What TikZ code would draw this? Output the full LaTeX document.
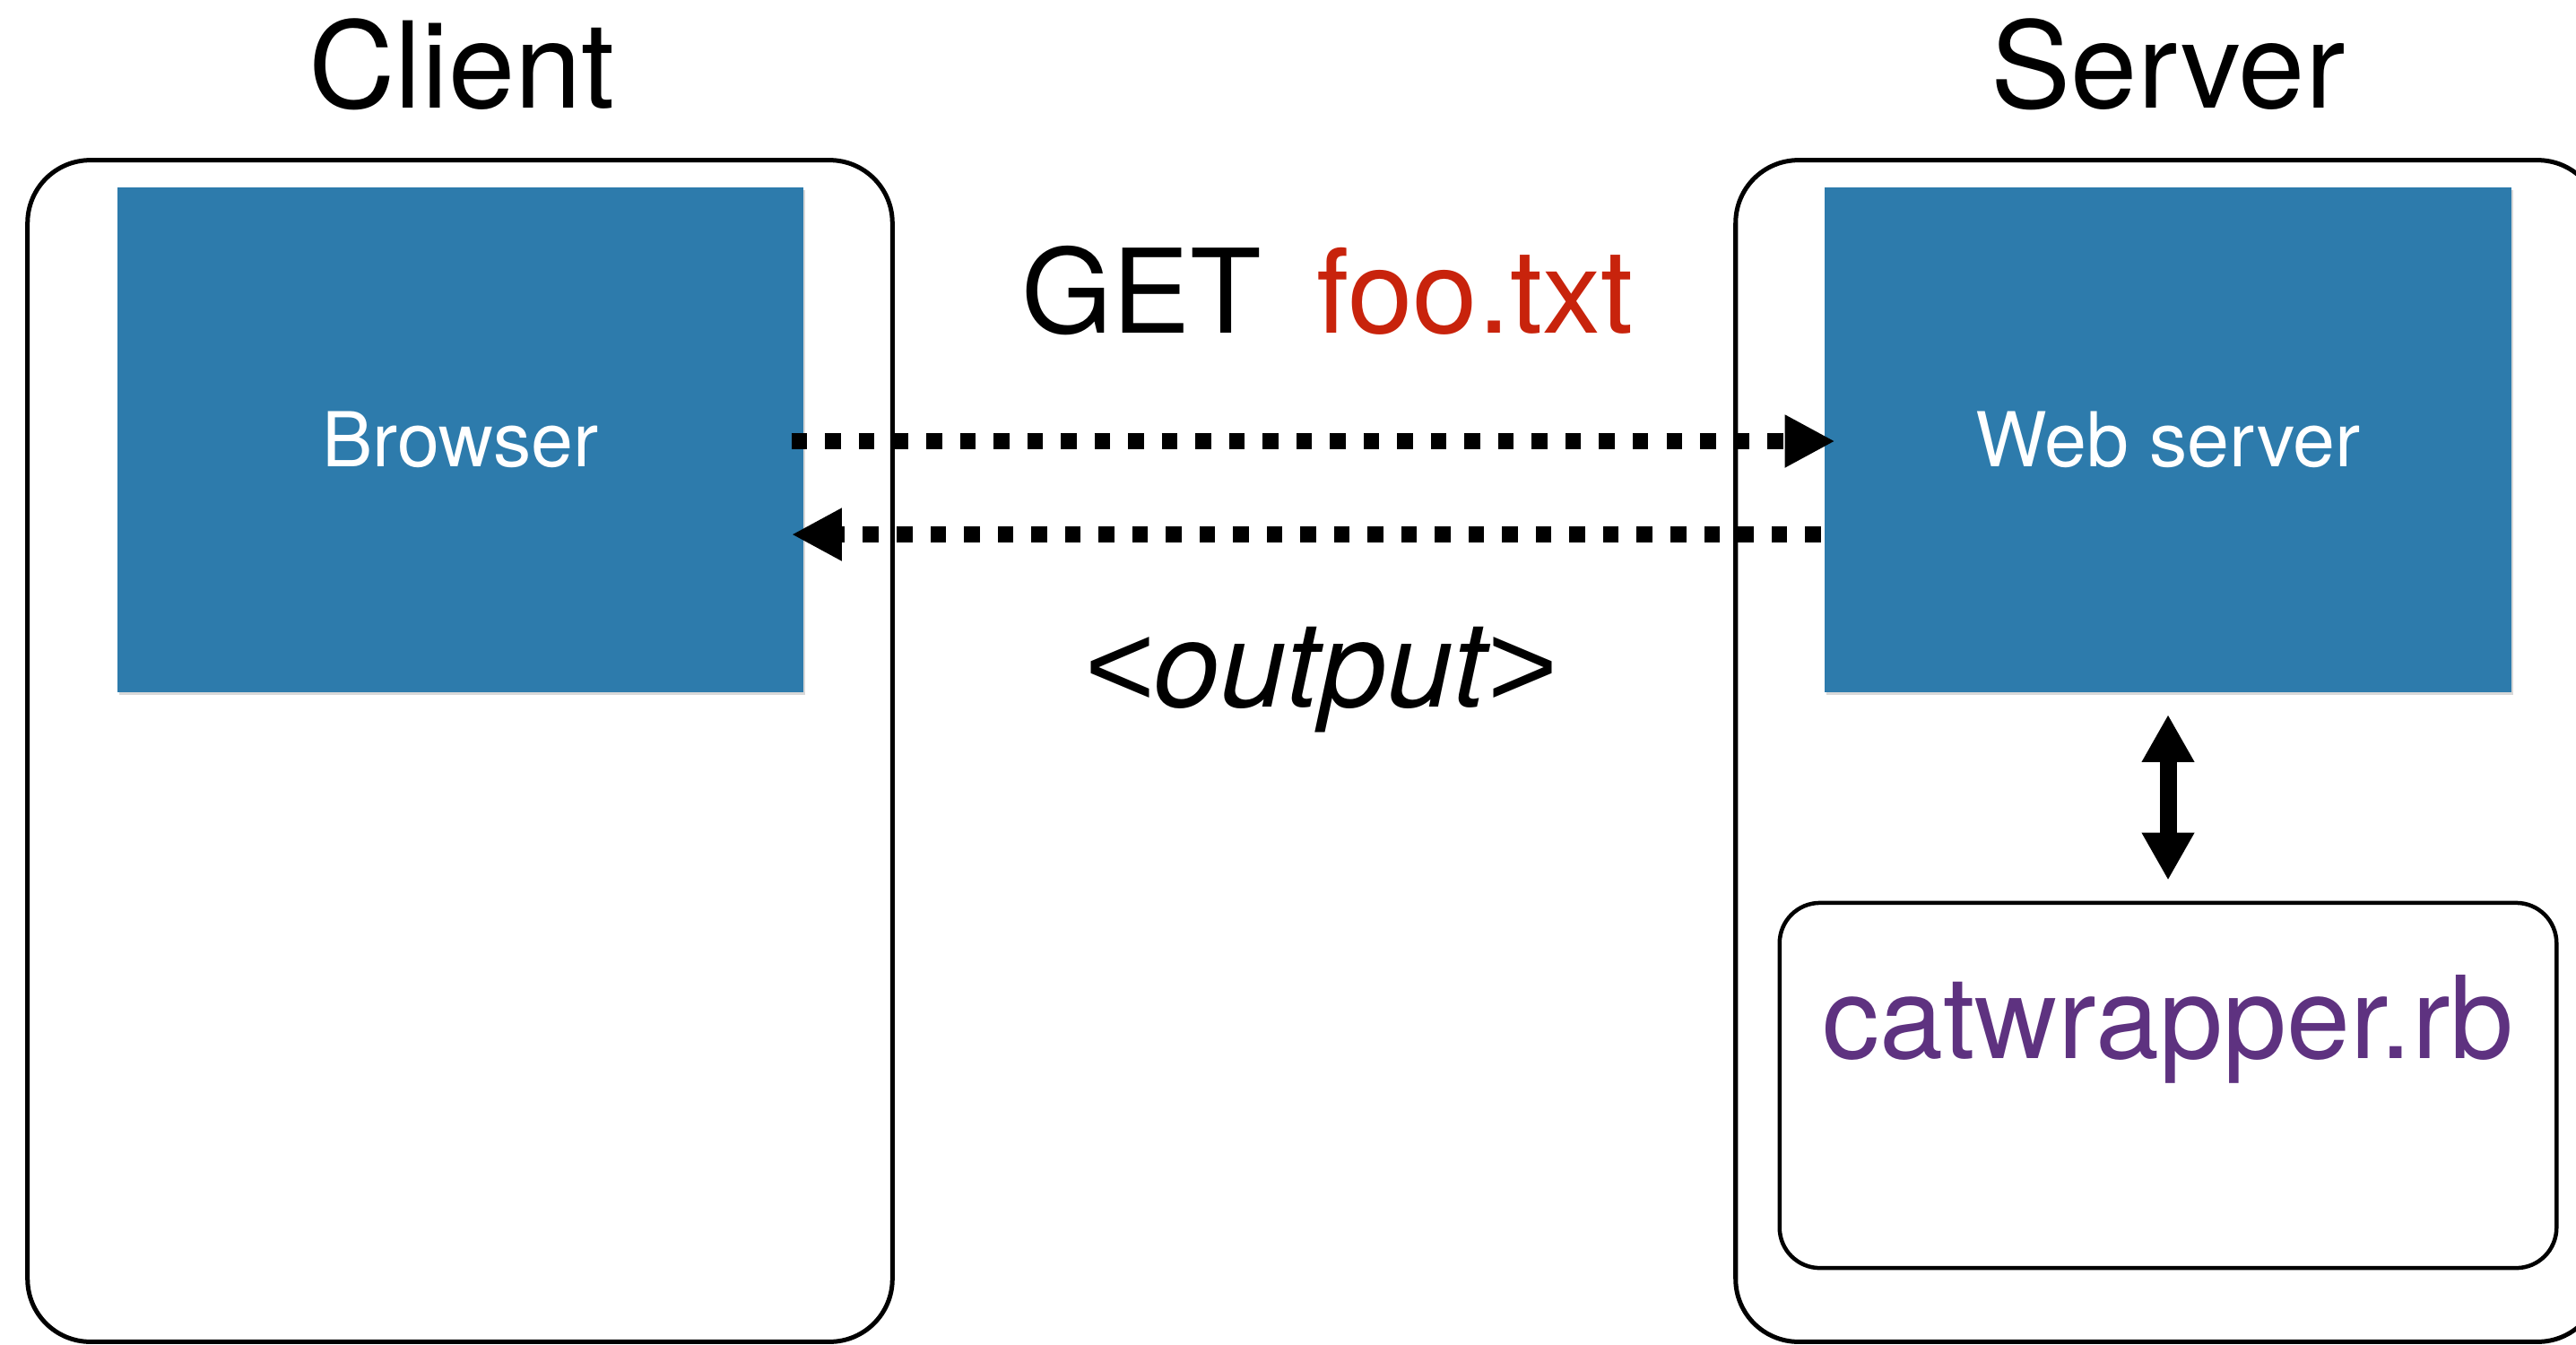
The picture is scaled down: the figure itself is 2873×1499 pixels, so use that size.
\documentclass[tikz,border=0pt]{standalone}
\usepackage{fontspec}
\setmainfont{TeX Gyre Heros}
\newfontfamily\bracketfont{Liberation Sans}
\usetikzlibrary{arrows.meta,shadows}
\definecolor{paperblue}{RGB}{45,123,172}
\definecolor{getred}{RGB}{200,35,12}
\definecolor{cwpurple}{RGB}{94,50,128}
\begin{document}
\begin{tikzpicture}[x=0.01cm,y=-0.01cm,
  outerbox/.style={draw=black, line width=0.05cm, rounded corners=0.7cm, fill=white,
    minimum width=9.64cm, minimum height=13.17cm, inner sep=0pt},
  bluebox/.style={fill=paperblue, minimum width=7.65cm, minimum height=5.63cm, inner sep=0pt,
    text=white, font=\fontsize{24}{28}\selectfont,
    drop shadow={shadow xshift=0.02cm, shadow yshift=-0.03cm, opacity=0.3}},
  innerbox/.style={draw=black, line width=0.045cm, rounded corners=0.45cm, fill=white,
    minimum width=8.66cm, minimum height=4.07cm, inner sep=0pt},
  titletext/.style={anchor=base, font=\fontsize{38}{44}\selectfont},
  bigtext/.style={anchor=base, font=\fontsize{37}{44}\selectfont},
  dasharrow/.style={line width=0.18cm, dash pattern=on 0.175cm off 0.2cm,
    -{Triangle[length=0.56cm,width=0.55cm]}},
  solidarrow/.style={line width=0.19cm,
    {Triangle[length=0.53cm,width=0.55cm]}-{Triangle[length=0.53cm,width=0.55cm]}}
]
\useasboundingbox (0,0) rectangle (2873,1499);
\clip (0,0) rectangle (2873,1499);

% outer boxes
\node[outerbox] (client) at (513,837.5) {};
\node[outerbox] (server) at (2418,837.5) {};

% blue components
\node[bluebox] (browser) at (513.5,490.5) {Browser};
\node[bluebox] (webserver) at (2418,490.5) {Web server};

% catwrapper box
\node[innerbox] (cwbox) at (2418,1210.5) {};
\node[anchor=base, text=cwpurple, font=\fontsize{36.3}{42}\selectfont] (cwlabel) at (2418,1180) {catwrapper.rb};

% titles
\node[titletext] (clientlabel) at (515,120) {Client};
\node[titletext] (serverlabel) at (2418,120) {Server};

% request / response labels
\node[bigtext] (getlabel) at (1273,371) {GET};
\node[bigtext, text=getred] (foolabel) at (1645,371) {foo.txt};
\node[anchor=base, font=\fontsize{38}{44}\selectfont\itshape] (outlabel) at (1472,788) {{\bracketfont\itshape\char"3C}output{\bracketfont\itshape\char"3E}};

% connectors
\draw[dasharrow] ([xshift=-0.14cm,yshift=-0.015cm]browser.east) -- ([xshift=0.12cm,yshift=-0.015cm]webserver.west);
\draw[dasharrow] ([xshift=-0.04cm,yshift=-1.055cm]webserver.west) -- ([xshift=-0.14cm,yshift=-1.055cm]browser.east);
\draw[solidarrow] ([yshift=-0.24cm]webserver.south) -- ([yshift=0.23cm]cwbox.north);
\end{tikzpicture}
\end{document}
